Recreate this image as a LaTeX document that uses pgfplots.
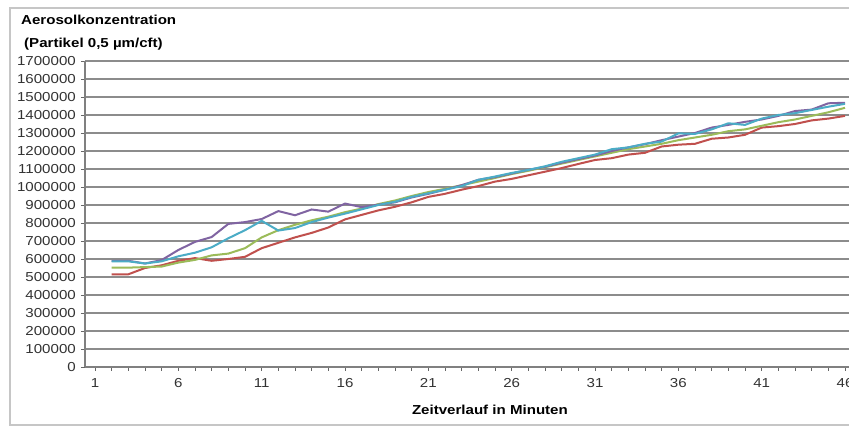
\documentclass[border=0pt]{standalone}
\usepackage{fontspec}
\setmainfont{Liberation Sans}[FakeStretch=1.16]
\usepackage{pgfplots}
\pgfplotsset{compat=1.18}
\definecolor{cred}{RGB}{192,80,77}
\definecolor{cgreen}{RGB}{155,187,89}
\definecolor{ccyan}{RGB}{75,172,198}
\definecolor{cpurple}{RGB}{128,100,162}
\begin{document}
\begin{tikzpicture}[x=1pt,y=1pt]
\useasboundingbox (0,0) rectangle (849,430);
\fill[white] (0,0) rectangle (849,430);
\draw[gray!45, line width=1.5pt] (10,5) rectangle (890,422);
\node[anchor=west, font=\fontsize{13}{15}\selectfont\bfseries, inner sep=0] at (21,410) {Aerosolkonzentration};
\node[anchor=west, font=\fontsize{13}{15}\selectfont\bfseries, inner sep=0] at (24,386) {(Partikel 0,5 µm/cft)};
\begin{axis}[
  at={(85pt,63pt)}, anchor=south west, scale only axis,
  width=764pt, height=306pt,
  xmin=0.4, xmax=46.24, ymin=0, ymax=1700000,
  axis x line*=bottom, axis y line*=left,
  axis line style={gray, line width=1.2pt},
  ytick={0,100000,200000,300000,400000,500000,600000,700000,800000,900000,1000000,1100000,1200000,1300000,1400000,1500000,1600000,1700000},
  xtick={1,6,11,16,21,26,31,36,41,46},
  minor xtick={2,3,4,5,7,8,9,10,12,13,14,15,17,18,19,20,22,23,24,25,27,28,29,30,32,33,34,35,37,38,39,40,42,43,44,45},
  tick align=outside, major tick length=4pt, minor tick length=4pt,
  tick style={gray!80!black, line width=0.8pt},
  ymajorgrids, grid style={gray!90, line width=1.4pt},
  scaled y ticks=false,
  /pgf/number format/assume math mode=true,
  yticklabel style={/pgf/number format/fixed, /pgf/number format/1000 sep={}, font=\fontsize{13}{14}\selectfont, text=black!80, xshift=-4pt, inner sep=1pt},
  xticklabel style={font=\fontsize{13}{14}\selectfont, text=black!80, yshift=-4pt},
  xlabel={\textbf{Zeitverlauf in Minuten}},
  xlabel style={at={(axis description cs:0.53,0)}, anchor=center, yshift=-43pt, font=\fontsize{13}{15}\selectfont},
  clip=false,
]
\addplot[cred, line width=2pt] coordinates {
(2,515000)(3,515000)(4,550000)(5,565000)(6,590000)(7,605000)(8,590000)(9,600000)(10,612000)(11,660000)
(12,690000)(13,720000)(14,745000)(15,775000)(16,820000)(17,845000)(18,870000)(19,890000)(20,915000)(21,945000)
(22,962000)(23,985000)(24,1005000)(25,1030000)(26,1045000)(27,1065000)(28,1085000)(29,1105000)(30,1128000)(31,1150000)
(32,1160000)(33,1180000)(34,1190000)(35,1225000)(36,1235000)(37,1240000)(38,1268000)(39,1275000)(40,1290000)(41,1330000)
(42,1338000)(43,1350000)(44,1370000)(45,1380000)(46,1395000)};
\addplot[cgreen, line width=2pt] coordinates {
(2,552000)(3,552000)(4,555000)(5,558000)(6,580000)(7,595000)(8,620000)(9,630000)(10,660000)(11,720000)
(12,760000)(13,790000)(14,815000)(15,835000)(16,860000)(17,880000)(18,905000)(19,925000)(20,950000)(21,972000)
(22,990000)(23,1010000)(24,1030000)(25,1050000)(26,1072000)(27,1090000)(28,1110000)(29,1130000)(30,1150000)(31,1170000)
(32,1190000)(33,1210000)(34,1225000)(35,1240000)(36,1260000)(37,1275000)(38,1290000)(39,1310000)(40,1320000)(41,1340000)
(42,1360000)(43,1375000)(44,1395000)(45,1415000)(46,1440000)};
\addplot[cpurple, line width=2pt] coordinates {
(2,590000)(3,590000)(4,575000)(5,594000)(6,650000)(7,695000)(8,722000)(9,795000)(10,805000)(11,822000)
(12,866000)(13,843000)(14,875000)(15,863000)(16,908000)(17,888000)(18,902000)(19,915000)(20,942000)(21,962000)
(22,985000)(23,1010000)(24,1040000)(25,1055000)(26,1075000)(27,1095000)(28,1112000)(29,1135000)(30,1155000)(31,1175000)
(32,1200000)(33,1220000)(34,1238000)(35,1260000)(36,1280000)(37,1300000)(38,1330000)(39,1345000)(40,1362000)(41,1375000)
(42,1395000)(43,1422000)(44,1430000)(45,1465000)(46,1468000)};
\addplot[ccyan, line width=2pt] coordinates {
(2,587000)(3,587000)(4,575000)(5,587000)(6,615000)(7,635000)(8,665000)(9,715000)(10,760000)(11,812000)
(12,758000)(13,772000)(14,805000)(15,830000)(16,852000)(17,876000)(18,900000)(19,918000)(20,945000)(21,965000)
(22,985000)(23,1005000)(24,1040000)(25,1058000)(26,1078000)(27,1095000)(28,1115000)(29,1140000)(30,1160000)(31,1180000)
(32,1210000)(33,1220000)(34,1240000)(35,1252000)(36,1298000)(37,1295000)(38,1320000)(39,1354000)(40,1345000)(41,1380000)
(42,1400000)(43,1410000)(44,1428000)(45,1446000)(46,1462000)};
\end{axis}
\end{tikzpicture}
\end{document}
